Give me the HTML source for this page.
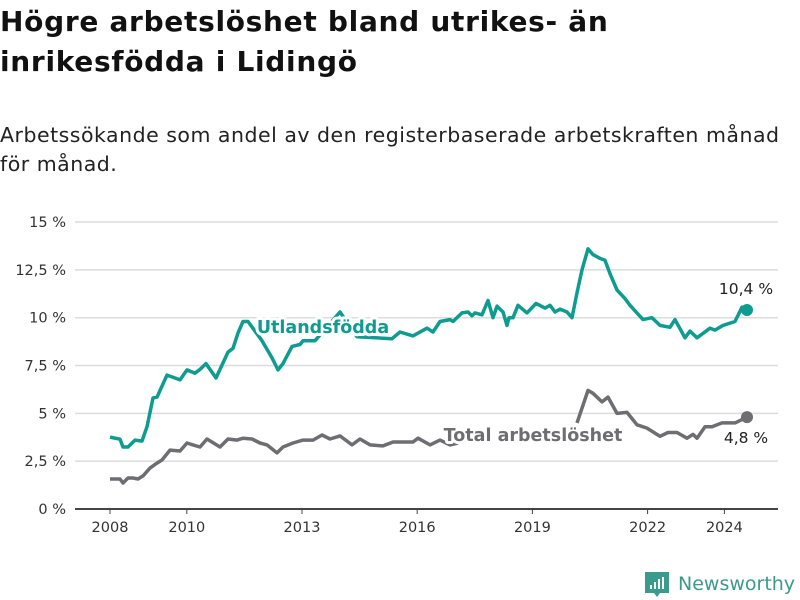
<!DOCTYPE html>
<html><head><meta charset="utf-8">
<style>
body{margin:0;background:#fff;width:800px;height:600px;overflow:hidden;font-family:"DejaVu Sans","Liberation Sans",sans-serif;}
#title{position:absolute;left:0;top:2px;font-size:28px;font-weight:bold;line-height:40px;color:#111;margin:0;letter-spacing:0.7px}
#sub{position:absolute;left:0;top:121px;font-size:20.5px;line-height:29px;color:#222;margin:0;letter-spacing:0.5px}
svg{position:absolute;left:0;top:0;font-family:"DejaVu Sans","Liberation Sans",sans-serif}
</style></head><body>
<h1 id="title">Högre arbetslöshet bland utrikes- än<br>inrikesfödda i Lidingö</h1>
<p id="sub">Arbetssökande som andel av den registerbaserade arbetskraften månad<br>för månad.</p>
<svg id="chart" width="800" height="600"></svg>
<script>
const yTicks=[0,2.5,5,7.5,10,12.5,15];
const yTickLabels=["0 %","2,5 %","5 %","7,5 %","10 %","12,5 %","15 %"];
const xTicks=[2008,2010,2013,2016,2019,2022,2024];
const foreignX=[110,120,123,128,135,142,147,153,157,167,175,180,187,195,200,206,216,228,233,238,243,248,262,272,278,283,292,300,303,315,340,357,392,400,413,427,433,440,450,453,462,468,472,475,482,488,493,497,503,507,509,513,518,527,536,545,550,555,560,567,572,577,582,588,593,600,605,610,617,625,630,643,652,660,670,675,685,690,697,710,715,723,735,742,747];
const foreignY=[3.76,3.65,3.24,3.24,3.6,3.55,4.3,5.8,5.85,7.0,6.85,6.75,7.27,7.1,7.3,7.6,6.85,8.2,8.4,9.2,9.8,9.8,8.8,7.9,7.27,7.6,8.5,8.6,8.8,8.8,10.3,9.0,8.9,9.25,9.05,9.45,9.25,9.8,9.9,9.8,10.25,10.3,10.1,10.25,10.15,10.9,10.0,10.6,10.3,9.6,10.0,10.0,10.65,10.25,10.75,10.5,10.65,10.3,10.45,10.3,10.0,11.3,12.5,13.6,13.3,13.1,13.0,12.3,11.45,11.0,10.65,9.9,10.0,9.6,9.5,9.9,8.95,9.3,8.95,9.45,9.35,9.6,9.8,10.55,10.4];
const totalX=[110,120,123,128,133,138,143,150,157,162,170,180,187,193,200,207,220,228,237,243,252,260,267,277,283,293,303,313,322,330,340,352,360,370,383,393,413,418,430,440,450,458,577,588,593,602,608,617,627,637,647,660,668,677,687,693,697,705,712,722,735,747];
const totalY=[1.57,1.57,1.36,1.62,1.62,1.57,1.73,2.14,2.4,2.56,3.08,3.03,3.45,3.35,3.24,3.66,3.24,3.66,3.6,3.7,3.66,3.45,3.35,2.93,3.24,3.45,3.6,3.6,3.87,3.66,3.82,3.35,3.66,3.35,3.3,3.5,3.5,3.7,3.35,3.6,3.35,3.45,4.5,6.2,6.05,5.6,5.85,5.0,5.05,4.4,4.23,3.8,4.0,4.0,3.7,3.9,3.7,4.3,4.3,4.5,4.5,4.8];
const gapAfter=41; // total series has no data between these points
const toYear=px=>2008+(px-110)/38.4;
const x=yr=>110+(yr-2008)*38.4;
const y=v=>509-v*19.13;
const NS="http://www.w3.org/2000/svg";
const svg=document.getElementById('chart');
function mk(t,a){const e=document.createElementNS(NS,t);for(const k in a)e.setAttribute(k,a[k]);svg.appendChild(e);return e;}
yTicks.forEach((v,i)=>{
 if(v>0){const g=mk('line',{x1:75,x2:778,y1:y(v),y2:y(v),stroke:'#dcdcdc','stroke-width':1.5});
 
 }
 const t=mk('text',{x:66,y:y(v)+5,'text-anchor':'end','font-size':14.5,fill:'#333'});t.textContent=yTickLabels[i];
 
 
});
const ax=mk('line',{x1:75,x2:778,y1:509,y2:509,stroke:'#444','stroke-width':2});


xTicks.forEach(yr=>{
 const l=mk('line',{x1:x(yr),x2:x(yr),y1:509,y2:514,stroke:'#444','stroke-width':1});
 
 
 const t=mk('text',{x:x(yr),y:532,'text-anchor':'middle','font-size':14.5,fill:'#333'});t.textContent=yr;
 
 
});
function path(xs,ys){let d='',pen=false;xs.forEach((px,i)=>{const v=ys[i];if(v==null){pen=false;return;}
 const X=x(toYear(px)).toFixed(1),Y=y(v).toFixed(1);d+=(pen?'L':'M')+X+' '+Y;pen=true;});return d;}
const tY=totalY.slice();tY.splice(gapAfter+1,0,null);const tX=totalX.slice();tX.splice(gapAfter+1,0,0);
const p1=mk('path',{d:path(foreignX,foreignY),fill:'none',stroke:'#0e9c90','stroke-width':3.5,'stroke-linejoin':'round'});


const p2=mk('path',{d:path(tX,tY),fill:'none',stroke:'#6e6d72','stroke-width':3.5,'stroke-linejoin':'round'});


const d1=mk('circle',{cx:x(toYear(foreignX[foreignX.length-1])),cy:y(foreignY[foreignY.length-1]),r:6,fill:'#0e9c90'});


const d2=mk('circle',{cx:x(toYear(totalX[totalX.length-1])),cy:y(totalY[totalY.length-1]),r:6,fill:'#6e6d72'});


function label(txt,X,Y,col,name,anchor,size,bold){const t=mk('text',{x:X,y:Y,'text-anchor':anchor,'font-size':size,fill:col,'font-weight':bold?'bold':'normal',stroke:'#fff','stroke-width':bold?6:0,'paint-order':'stroke','stroke-linejoin':'round'});t.textContent=txt;
 
 }
label('Utlandsfödda',323,333,'#0e9c90','utlandsfodda-label','middle',17.5,true);
label('Total arbetslöshet',533,441,'#6e6d72','total-label','middle',17.5,true);
label('10,4 %',746,294,'#222','utlandsfodda-end-value','middle',15.5,false);
label('4,8 %',746,443,'#222','total-end-value','middle',15.5,false);
// logo
const lg=mk('g',{});
const r=document.createElementNS(NS,'path');r.setAttribute('d','M645 572 h24 v21 h-9 l-3 4 l-3-4 h-9 z');r.setAttribute('fill','#3a9a8c');lg.appendChild(r);
const lt=document.createElementNS(NS,'text');lt.setAttribute('x',678);lt.setAttribute('y',590);lt.setAttribute('font-size',19);lt.setAttribute('fill','#3a9a8c');lt.textContent='Newsworthy';lg.appendChild(lt);
[[650,585,2,4],[654,582,2,7],[658,579,2,10],[662,577,2,12]].forEach(b=>{const e=document.createElementNS(NS,'rect');e.setAttribute('x',b[0]);e.setAttribute('y',b[1]);e.setAttribute('width',b[2]);e.setAttribute('height',b[3]);e.setAttribute('fill','#fff');lg.appendChild(e);});
</script>
</body></html>
